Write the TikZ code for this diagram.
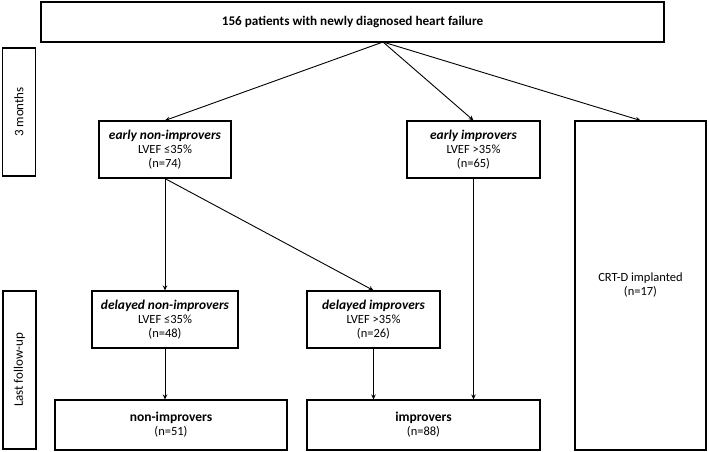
\documentclass[tikz,border=0pt]{standalone}
\usepackage{fontspec}
\setmainfont{Carlito}
\usetikzlibrary{arrows.meta}
\newcommand{\grptitle}[1]{{\fontsize{13.4}{14}\selectfont\bfseries\itshape #1}}
\newcommand{\grphead}[1]{{\fontsize{13.5}{14}\selectfont\bfseries #1}}
\tikzset{
  grp/.style={draw, line width=1.1pt, align=center, inner sep=0pt,
    font=\fontsize{12.5}{14}\selectfont},
  side/.style={draw, line width=1.1pt, inner sep=0pt, rotate=90,
    font=\fontsize{13}{15}\selectfont},
  flow/.style={line width=0.9pt, -{Stealth[length=5pt,width=4.5pt]}}
}
\begin{document}
\begin{tikzpicture}[x=1pt, y=-1pt]
    \useasboundingbox (0, 0) rectangle (709, 451);

    % top box
    \node[grp, minimum width=623, minimum height=40, font=\fontsize{13.2}{15}\selectfont\bfseries]
        (all) at (352.5, 22){156 patients with newly diagnosed heart failure};
    \coordinate (apex) at (383, 42);

    % time labels
    \node[side, minimum width=128, minimum height=33] (mo) at (19, 112){3 months};
    \node[side, minimum width=158, minimum height=33] (fu) at (19.5, 370){Last follow-up};

        % 3 months
        \node[grp, minimum width=132, minimum height=57] (enon) at (165, 149.5)
            {\grptitle{early non-improvers}\\LVEF ≤35\%\\(n=74)};
        \node[grp, minimum width=133, minimum height=57] (eimp) at (473.5, 149.5)
            {\grptitle{early improvers}\\LVEF >35\%\\(n=65)};
        \node[grp, minimum width=131, minimum height=329] (crt) at (640.5, 285.5)
            {CRT-D implanted\\(n=17)};

        % last follow-up
        \node[grp, minimum width=146, minimum height=57] (dnon) at (165, 319.5)
            {\grptitle{delayed non-improvers}\\LVEF ≤35\%\\(n=48)};
        \node[grp, minimum width=133, minimum height=57] (dimp) at (373.5, 319.5)
            {\grptitle{delayed improvers}\\LVEF >35\%\\(n=26)};
        \node[grp, minimum width=232, minimum height=50] (non) at (171, 425)
            {\grphead{non-improvers}\\(n=51)};
        \node[grp, minimum width=233, minimum height=50] (imp) at (423.5, 425)
            {\grphead{improvers}\\(n=88)};

    \draw[flow] (apex) -- (enon.north);
    \draw[flow] (apex) -- (eimp.north);
    \draw[flow] (apex) -- (crt.north);

    \draw[flow] (enon.south) -- (dnon.north);
    \draw[flow] (enon.south) -- (dimp.north);
    \draw[flow] (eimp.south) -- (eimp.south |- imp.north);

    \draw[flow] (dnon.south) -- (dnon.south |- non.north);
    \draw[flow] (dimp.south) -- (dimp.south |- imp.north);
\end{tikzpicture}
\end{document}
